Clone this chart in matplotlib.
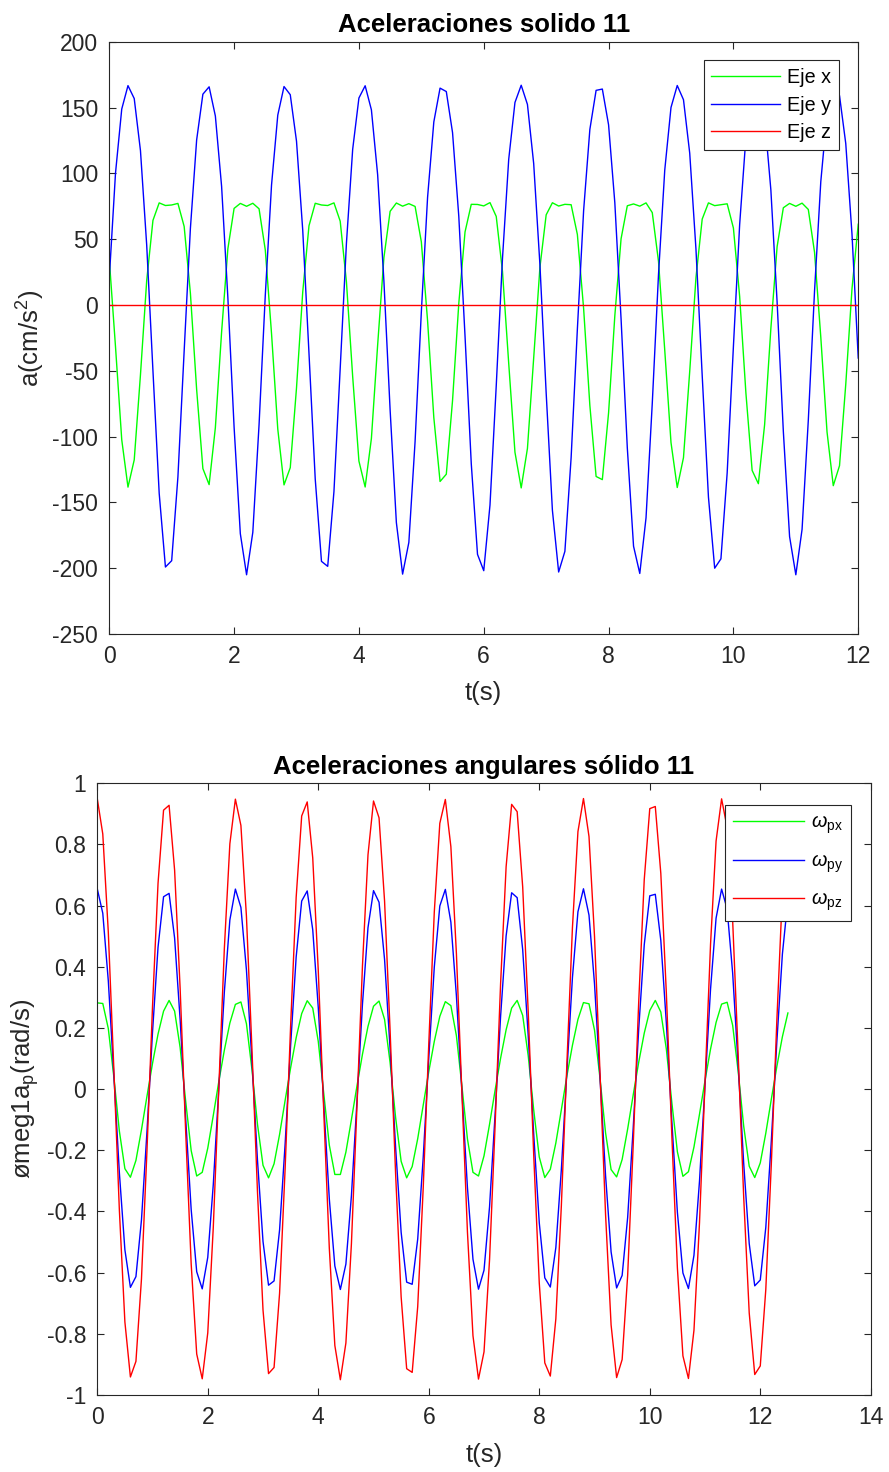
import numpy as np
import matplotlib.pyplot as plt

plt.rcParams['font.family'] = ['Liberation Sans', 'DejaVu Sans']
plt.rcParams['mathtext.fontset'] = 'custom'
plt.rcParams['mathtext.rm'] = 'Liberation Sans'
plt.rcParams['mathtext.it'] = 'Liberation Sans:italic'
plt.rcParams['axes.unicode_minus'] = False

# Aceleraciones del solido 11 (cm/s^2), muestreo cada 0.1 s
eje_x = [35.0, -31.7, -102.4, -138.4, -117.7, -53.0, 18.6, 64.3, 77.6, 75.6, 76.0, 77.2, 59.7, 8.9, -64.2,
         -124.3, -136.5, -93.2, -20.5, 42.6, 73.4, 77.2, 75.0, 77.3, 73.1,
         41.8, -21.8, -94.3, -136.7, -123.6, -63.0, 10.0, 60.2, 77.3, 76.0, 75.6, 77.6, 63.7, 17.5, -54.4,
         -118.6, -138.3, -101.4, -30.4, 35.9, 71.2, 77.5, 75.1, 77.0, 74.9,
         48.0, -12.0, -85.5, -134.1, -128.6, -72.6, 1.1, 55.5, 76.5, 76.4, 75.3, 77.8, 67.3, 25.5, -44.4,
         -111.9, -139.0, -109.0, -40.3, 28.6, 68.5, 77.7, 75.2, 76.5, 76.2,
         53.6, -2.6, -76.3, -130.3, -132.7, -81.9, -8.2, 50.3, 75.4, 76.8, 75.1, 77.6, 70.2, 33.1, -34.4,
         -104.5, -138.7, -116.0, -50.4, 20.8, 65.3, 77.6, 75.5, 76.2, 76.9,
         58.5, 6.5, -66.8, -125.7, -135.8, -90.9, -17.9, 44.3, 73.9, 77.2, 75.0, 77.4, 72.6, 40.0, -24.4,
         -96.5, -137.3, -122.1, -60.3, 12.4, 61.4]
eje_y = [20.0, 100.2, 148.9, 166.7, 156.9, 117.3, 45.4, -50.0, -143.1, -199.1, -194.3, -130.6, -35.0, 58.2,
         125.4, 160.2, 165.8, 143.6, 90.1, 5.8, -92.7, -173.8, -205.0, -172.7, -91.0,
         7.5, 91.2, 144.3, 166.0, 159.8, 124.5, 56.7, -36.7, -132.2, -194.8, -198.6, -141.7, -48.3, 47.0,
         118.3, 157.3, 166.6, 148.3, 99.0, 18.4, -79.9, -165.3, -204.5, -180.4, -103.6,
         -5.3, 81.8, 139.1, 164.8, 162.2, 131.0, 67.5, -23.6, -120.6, -189.5, -201.9, -152.0, -61.5, 35.3,
         110.7, 153.9, 167.0, 152.4, 107.5, 30.6, -66.8, -156.0, -202.9, -187.2, -115.9,
         -18.3, 71.7, 133.4, 163.1, 164.1, 136.9, 77.7, -10.5, -108.5, -183.3, -204.0, -161.7, -74.7, 23.3,
         102.5, 150.1, 166.8, 156.0, 115.4, 42.4, -53.6, -145.9, -200.0, -192.9, -127.6,
         -31.5, 61.1, 127.2, 160.8, 165.5, 142.3, 87.5, 2.4, -96.1, -176.0, -205.0, -170.5, -87.6, 10.8,
         93.7, 145.5, 166.2, 159.1, 122.7, 53.8, -40.3]
eje_z = [0.0] * len(eje_x)
t1 = np.round(np.arange(len(eje_x)) * 0.1, 1)

# Aceleraciones angulares del solido 11
w_px = [0.282, 0.280, 0.198, 0.040, -0.137, -0.260, -0.288, -0.233, -0.133, -0.023, 0.084, 0.180, 0.255,
        0.290, 0.255, 0.136, -0.039, -0.201, -0.284, -0.272, -0.193, -0.086, 0.025, 0.127, 0.216,
        0.277, 0.285, 0.214, 0.064, -0.115, -0.249, -0.290, -0.244, -0.148, -0.037, 0.070, 0.168, 0.247,
        0.289, 0.265, 0.156, -0.015, -0.183, -0.279, -0.279, -0.206, -0.100, 0.010, 0.114, 0.205,
        0.271, 0.288, 0.228, 0.087, -0.093, -0.236, -0.290, -0.253, -0.162, -0.052, 0.057, 0.156, 0.238,
        0.286, 0.273, 0.175, 0.010, -0.163, -0.272, -0.284, -0.218, -0.115, -0.004, 0.101, 0.194,
        0.265, 0.290, 0.241, 0.109, -0.069, -0.222, -0.289, -0.262, -0.176, -0.067, 0.043, 0.143, 0.228,
        0.283, 0.279, 0.193, 0.034, -0.143, -0.263, -0.287, -0.230, -0.130, -0.019, 0.088, 0.183,
        0.257, 0.290, 0.252, 0.131, -0.045, -0.205, -0.285, -0.270, -0.189, -0.082, 0.028, 0.131, 0.218,
        0.278, 0.284, 0.209, 0.058, -0.121, -0.252, -0.289, -0.241, -0.144, -0.033, 0.074, 0.171, 0.249]
w_py = [0.655, 0.575, 0.354, 0.046, -0.273, -0.525, -0.648, -0.613, -0.428, -0.138, 0.186, 0.464, 0.629,
        0.640, 0.494, 0.227, -0.095, -0.394, -0.597, -0.653, -0.550, -0.312, 0.003, 0.317, 0.553,
        0.654, 0.594, 0.390, 0.090, -0.233, -0.498, -0.641, -0.627, -0.460, -0.180, 0.144, 0.432, 0.615,
        0.648, 0.521, 0.267, -0.052, -0.359, -0.578, -0.655, -0.572, -0.349, -0.041, 0.278, 0.528,
        0.649, 0.611, 0.424, 0.132, -0.191, -0.468, -0.631, -0.638, -0.490, -0.222, 0.101, 0.399, 0.599,
        0.653, 0.546, 0.306, -0.009, -0.322, -0.556, -0.654, -0.592, -0.385, -0.084, 0.238, 0.501,
        0.642, 0.626, 0.456, 0.175, -0.149, -0.437, -0.617, -0.647, -0.518, -0.262, 0.058, 0.364, 0.580,
        0.655, 0.569, 0.344, 0.035, -0.283, -0.532, -0.650, -0.609, -0.419, -0.127, 0.197, 0.472,
        0.632, 0.637, 0.486, 0.216, -0.107, -0.403, -0.601, -0.652, -0.543, -0.301, 0.014, 0.327, 0.559,
        0.654, 0.589, 0.380, 0.078, -0.243, -0.505, -0.643, -0.624, -0.452, -0.169, 0.155, 0.441, 0.619]
w_pz = [0.950, 0.834, 0.513, 0.067, -0.395, -0.761, -0.941, -0.890, -0.621, -0.200, 0.270, 0.673, 0.912,
        0.928, 0.716, 0.329, -0.138, -0.572, -0.866, -0.947, -0.797, -0.452, 0.004, 0.459, 0.802,
        0.948, 0.862, 0.565, 0.130, -0.337, -0.722, -0.930, -0.910, -0.667, -0.261, 0.208, 0.627, 0.893,
        0.939, 0.756, 0.388, -0.076, -0.520, -0.838, -0.950, -0.830, -0.506, -0.059, 0.403, 0.766,
        0.942, 0.887, 0.615, 0.192, -0.278, -0.679, -0.914, -0.926, -0.711, -0.321, 0.147, 0.579, 0.869,
        0.947, 0.793, 0.444, -0.013, -0.467, -0.806, -0.948, -0.859, -0.558, -0.122, 0.345, 0.727,
        0.931, 0.907, 0.661, 0.253, -0.217, -0.634, -0.895, -0.938, -0.751, -0.380, 0.084, 0.527, 0.842,
        0.950, 0.826, 0.499, 0.050, -0.410, -0.771, -0.943, -0.884, -0.608, -0.184, 0.286, 0.685,
        0.917, 0.924, 0.705, 0.314, -0.155, -0.585, -0.872, -0.946, -0.788, -0.437, 0.021, 0.474, 0.811,
        0.949, 0.855, 0.552, 0.113, -0.353, -0.732, -0.933, -0.905, -0.655, -0.245, 0.225, 0.640, 0.898]
t2 = np.round(np.arange(len(w_px)) * 0.1, 1)

# ejes y etiquetas
ticks_t1 = [0, 2, 4, 6, 8, 10, 12]
ticks_a = [-250, -200, -150, -100, -50, 0, 50, 100, 150, 200]
ticks_t2 = [0, 2, 4, 6, 8, 10, 12, 14]
ticks_w = [-1, -0.8, -0.6, -0.4, -0.2, 0, 0.2, 0.4, 0.6, 0.8, 1]

gris = '#262626'
fs_tick, fs_lab, fs_leg = 16.5, 18.5, 14.2
fig = plt.figure(figsize=(8.89, 14.72), dpi=100)


def estilo(ax, xt, yt):
    for sp in ax.spines.values():
        sp.set_color(gris)
        sp.set_linewidth(0.8)
    ax.set_xticks(xt)
    ax.set_xticklabels(['{:g}'.format(v) for v in xt])
    ax.set_yticks(yt)
    ax.set_yticklabels(['{:g}'.format(v) for v in yt])
    ax.tick_params(direction='in', length=5, width=0.8, colors=gris, labelsize=fs_tick,
                   top=True, right=True)
    ax.tick_params(axis='x', pad=8)
    ax.tick_params(axis='y', pad=8)


def leyenda(ax, h_len, l_sp, esquina):
    leg = ax.legend(loc='upper right', bbox_to_anchor=esquina, borderaxespad=0,
                    fontsize=fs_leg, handlelength=h_len, handletextpad=0.35,
                    labelspacing=l_sp, fancybox=False, framealpha=1)
    leg.get_frame().set_edgecolor(gris)
    leg.get_frame().set_linewidth(0.8)


# --- aceleraciones lineales ---
ax1 = fig.add_axes([0.1229, 0.5693, 0.8425, 0.4023])
ax1.plot(t1, eje_x, color=(0, 1, 0), lw=1.0, label='Eje x')
ax1.plot(t1, eje_y, color=(0, 0, 1), lw=1.0, label='Eje y')
ax1.plot(t1, eje_z, color=(1, 0, 0), lw=1.0, label='Eje z')
ax1.set_xlim(0, 12)
ax1.set_ylim(-250, 200)
estilo(ax1, ticks_t1, ticks_a)
ax1.set_title('Aceleraciones solido 11', fontsize=fs_lab, fontweight='bold', pad=7)
ax1.set_xlabel('t(s)', fontsize=fs_lab, color=gris, labelpad=9)
ax1.set_ylabel(r'a(cm/s$^{\mathregular{2}}$)', fontsize=fs_lab, color=gris, labelpad=4)
leyenda(ax1, 3.5, 0.44, (0.9746, 0.9693))

# --- aceleraciones angulares ---
ax2 = fig.add_axes([0.1094, 0.0523, 0.8701, 0.4156])
ax2.plot(t2, w_px, color=(0, 1, 0), lw=1.0, label=r'$\omega_{\mathrm{px}}$')
ax2.plot(t2, w_py, color=(0, 0, 1), lw=1.0, label=r'$\omega_{\mathrm{py}}$')
ax2.plot(t2, w_pz, color=(1, 0, 0), lw=1.0, label=r'$\omega_{\mathrm{pz}}$')
ax2.set_xlim(0, 14)
ax2.set_ylim(-1, 1)
estilo(ax2, ticks_t2, ticks_w)
ax2.set_title('Aceleraciones angulares sólido 11', fontsize=fs_lab, fontweight='bold', pad=7)
ax2.set_xlabel('t(s)', fontsize=fs_lab, color=gris, labelpad=10)
ax2.set_ylabel(r'ømeg1a$_{\mathregular{p}}$(rad/s)', fontsize=fs_lab, color=gris, labelpad=4)
leyenda(ax2, 3.6, 0.78, (0.9744, 0.9647))

fig.savefig('out.png', dpi=100, facecolor='white')
